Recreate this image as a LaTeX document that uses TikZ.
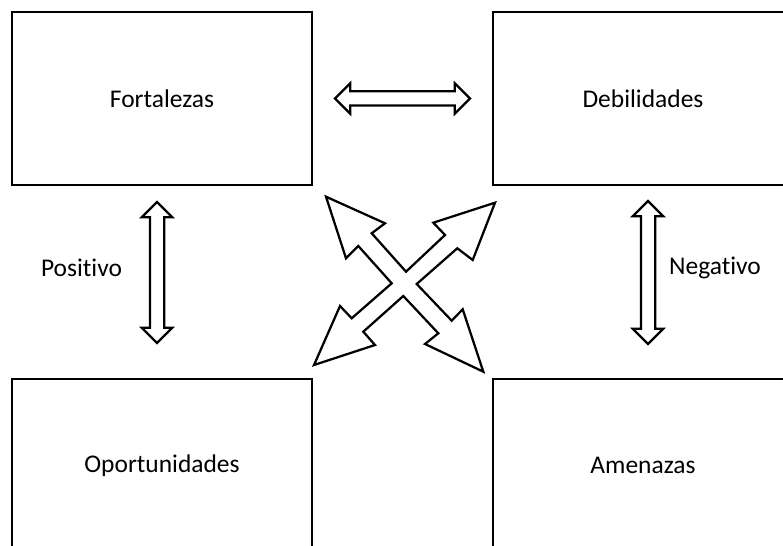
\documentclass[tikz,border=0pt]{standalone}
\usepackage{fontspec}
\setmainfont{Carlito}[Ligatures=NoCommon]
\usetikzlibrary{shapes.arrows,calc}

\begin{document}
\begin{tikzpicture}[
   x = 0.02cm, y = -0.02cm,
   every node/.style = {text=black, font=\fontsize{14.5}{17}\selectfont},
   box/.style = {draw, line width=0.045cm, minimum width=6cm, minimum height=3.46cm},
   hollow/.style = {draw, double arrow, line width=0.045cm, inner sep=0pt,
      inner ysep=0.12cm, minimum width=0.56cm, double arrow head extend=0.16cm},
]
   \useasboundingbox (0,0) rectangle (783,546);
   \clip (0,0) rectangle (783,546);
   % quadrants
   \node [box] (F) at (162,98.5) {Fortalezas};
   \node [box] (D) at (643,98.5) {Debilidades};
   \node [box] (O) at (162,465.5) {Oportunidades};
   \node [box] (A) at (643,465.5) {Amenazas};
   % hollow arrows between quadrants
   \node [hollow, minimum height=2.7cm] (FD) at ($(F.east)!0.5!(D.west)$) {};
   \node [hollow, minimum height=2.82cm, rotate=90] (FO) at (157,272.5) {};
   \node [hollow, minimum height=2.86cm, rotate=90] (DA) at (648,272.5) {};
   % side labels
   \node (pos) at (81.5,268) {Positivo};
   \node (neg) at (715,268) {Negativo};
   % crossed arrows
   \draw [line width=0.045cm]
      (326,196.7) -- (385,223.3) -- (371.7,233.3) -- (406,271.7)
      -- (445,235) -- (433.3,222.7) -- (495,202.7) -- (472.7,260)
      -- (457.3,248.3) -- (416.7,284) -- (451.7,320.7) -- (462.7,309.3)
      -- (483.3,371.7) -- (425,344) -- (438.3,333.3) -- (403.3,296)
      -- (363.3,331.7) -- (375,345) -- (314,365) -- (340,306)
      -- (351.7,318.3) -- (391.7,283.3) -- (358.3,246) -- (346,258.3)
      -- cycle;
\end{tikzpicture}
\end{document}
